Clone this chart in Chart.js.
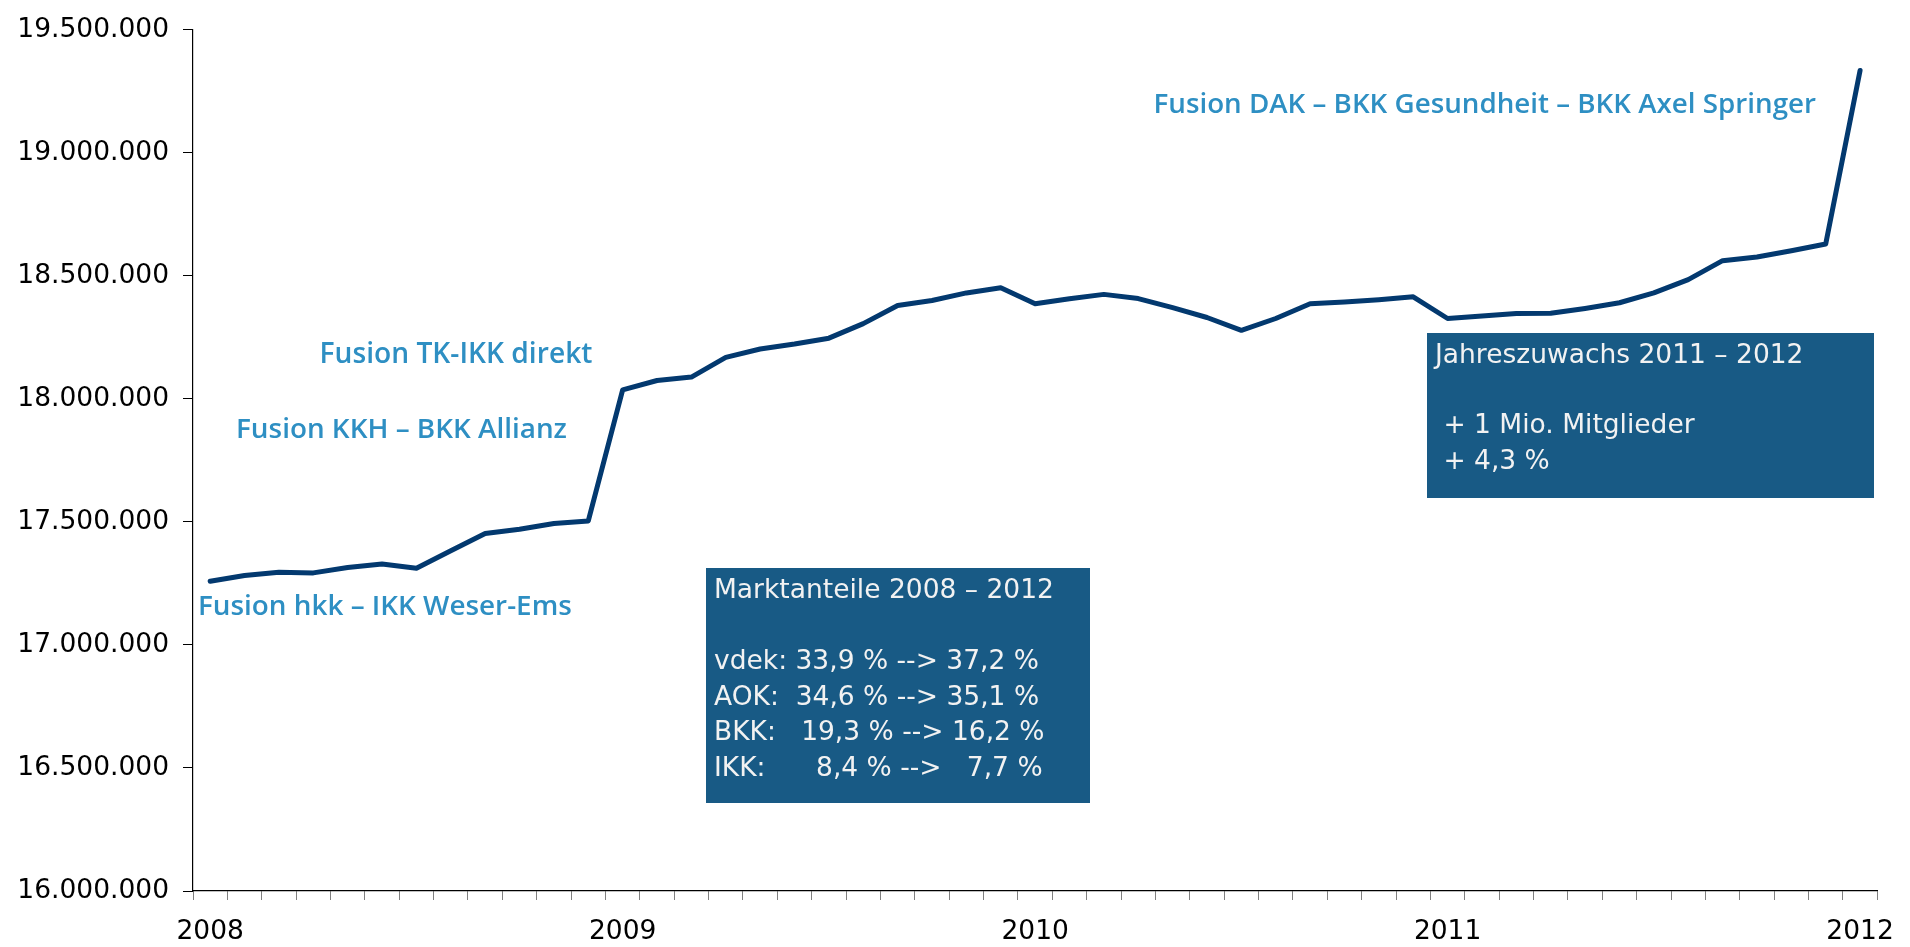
<!DOCTYPE html>
<html lang="de">
<head>
<meta charset="utf-8">
<title>Mitgliederentwicklung 2008 - 2012</title>
<script src="https://cdn.jsdelivr.net/npm/chart.js@4.4.1/dist/chart.umd.min.js"></script>
<style>
  html, body { margin: 0; padding: 0; background: #ffffff; overflow: hidden; }
  #wrap { position: relative; width: 1910px; height: 947px; }
</style>
</head>
<body>
<div id="wrap"><canvas id="chart"></canvas></div>
<script>
// ---- Data -------------------------------------------------------------
const months = [
  '2008-01','2008-02','2008-03','2008-04','2008-05','2008-06','2008-07','2008-08','2008-09','2008-10','2008-11','2008-12',
  '2009-01','2009-02','2009-03','2009-04','2009-05','2009-06','2009-07','2009-08','2009-09','2009-10','2009-11','2009-12',
  '2010-01','2010-02','2010-03','2010-04','2010-05','2010-06','2010-07','2010-08','2010-09','2010-10','2010-11','2010-12',
  '2011-01','2011-02','2011-03','2011-04','2011-05','2011-06','2011-07','2011-08','2011-09','2011-10','2011-11','2011-12',
  '2012-01'
];
const members = [
  17259000, 17282000, 17296000, 17293000, 17315000, 17329000, 17312000, 17383000, 17453000, 17470000, 17494000, 17504000,
  18037000, 18075000, 18089000, 18169000, 18203000, 18223000, 18247000, 18306000, 18380000, 18400000, 18431000, 18452000,
  18387000, 18407000, 18425000, 18408000, 18371000, 18331000, 18279000, 18327000, 18387000, 18394000, 18403000, 18415000,
  18327000, 18337000, 18347000, 18348000, 18368000, 18391000, 18431000, 18485000, 18562000, 18577000, 18602000, 18630000,
  19335000
];
const yearLabels = ['2008', '2009', '2010', '2011', '2012'];
const yMin = 16000000;
const yMax = 19500000;
const yStep = 500000;

const mergerNotes = [
  'Fusion hkk \u2013 IKK Weser-Ems',
  'Fusion KKH \u2013 BKK Allianz',
  'Fusion TK-IKK direkt',
  'Fusion DAK \u2013 BKK Gesundheit \u2013 BKK Axel Springer'
];
const marketShareLines = [
  'Marktanteile 2008 \u2013 2012',
  '',
  'vdek: 33,9 % --> 37,2 %',
  'AOK:  34,6 % --> 35,1 %',
  'BKK:   19,3 % --> 16,2 %',
  'IKK:      8,4 % -->   7,7 %'
];
const growthLines = [
  'Jahreszuwachs 2011 \u2013 2012',
  '',
  ' + 1 Mio. Mitglieder',
  ' + 4,3 %'
];

// ---- Helpers ----------------------------------------------------------
function formatDE(v) {
  return String(Math.round(v)).replace(/\B(?=(\d{3})+(?!\d))/g, '.');
}

const AXIS_FONT = { family: 'DejaVu Sans', size: 26.5 };
const NOTE_COLOR = '#2e8fc3';
const BOX_COLOR = '#185a85';
const BOX_TEXT = '#f2f2f2';

function fitFont(ctx, text, weight, family, size, targetWidth) {
  ctx.font = weight + ' ' + size + 'px "' + family + '"';
  const w = ctx.measureText(text).width;
  const s = w > 0 ? size * targetWidth / w : size;
  return weight + ' ' + s.toFixed(2) + 'px "' + family + '"';
}

const annotationPlugin = {
  id: 'annotations',
  afterDraw(chart) {
    const ctx = chart.ctx;
    ctx.save();
    ctx.textBaseline = 'alphabetic';
    ctx.textAlign = 'left';

    // Merger notes (blue)
    const notes = [
      { text: mergerNotes[0], x: 198, y: 615, w: 374 },
      { text: mergerNotes[1], x: 236, y: 437.7, w: 331 },
      { text: mergerNotes[2], x: 319.5, y: 363.3, w: 273 },
      { text: mergerNotes[3], x: 1153.5, y: 113.3, w: 662.5 }
    ];
    ctx.fillStyle = NOTE_COLOR;
    notes.forEach(n => {
      ctx.font = fitFont(ctx, n.text, 600, 'Open Sans', 27, n.w);
      ctx.fillText(n.text, n.x, n.y);
    });

    // Box: Marktanteile
    ctx.fillStyle = BOX_COLOR;
    ctx.fillRect(706, 568, 384, 235);
    ctx.fillStyle = BOX_TEXT;
    ctx.font = '26.5px "DejaVu Sans"';
    const b1y = [597.7, 633.3, 669, 704.5, 740, 775.5];
    marketShareLines.forEach((t, i) => { if (t) ctx.fillText(t, 714, b1y[i]); });

    // Box: Jahreszuwachs
    ctx.fillStyle = BOX_COLOR;
    ctx.fillRect(1427, 333, 447, 165);
    ctx.fillStyle = BOX_TEXT;
    const b2y = [363.3, 398.3, 433.3, 469.3];
    growthLines.forEach((t, i) => { if (t) ctx.fillText(t, 1435, b2y[i]); });

    ctx.restore();
  }
};

// ---- Chart ------------------------------------------------------------
const ctx = document.getElementById('chart').getContext('2d');
new Chart(ctx, {
  type: 'line',
  data: {
    labels: months,
    datasets: [{
      label: 'Mitglieder',
      data: members,
      borderColor: '#03396f',
      backgroundColor: '#03396f',
      borderWidth: 5,
      pointRadius: 0,
      pointHoverRadius: 0,
      tension: 0,
      fill: false,
      borderJoinStyle: 'round',
      borderCapStyle: 'round'
    }]
  },
  options: {
    responsive: true,
    maintainAspectRatio: false,
    animation: false,
    devicePixelRatio: 1,
    layout: { padding: { top: 23, right: 20, bottom: 0, left: 0 } },
    plugins: {
      legend: { display: false },
      tooltip: { enabled: false },
      title: { display: false }
    },
    scales: {
      x: {
        type: 'category',
        offset: true,
        grid: {
          offset: true,
          drawOnChartArea: false,
          drawTicks: true,
          tickLength: 9,
          color: '#808080',
          tickColor: '#808080',
          lineWidth: 1
        },
        border: { display: true, color: '#000000', width: 1.2 },
        ticks: {
          autoSkip: false,
          maxRotation: 0,
          minRotation: 0,
          padding: 16,
          color: '#000000',
          font: AXIS_FONT,
          callback: function (value, index) {
            const m = months[index];
            if (m && m.endsWith('-01')) {
              const yr = m.slice(0, 4);
              return yearLabels.includes(yr) ? yr : '';
            }
            return '';
          }
        },
        afterFit: function (scale) { scale.height = 56; }
      },
      y: {
        min: yMin,
        max: yMax,
        grid: {
          drawOnChartArea: false,
          drawTicks: true,
          tickLength: 10,
          color: '#000000',
          tickColor: '#000000',
          lineWidth: 1
        },
        border: { display: true, color: '#000000', width: 1.2 },
        ticks: {
          stepSize: yStep,
          padding: 14,
          color: '#000000',
          font: AXIS_FONT,
          callback: function (v) { return formatDE(v); }
        },
        afterFit: function (scale) { scale.width = 193; }
      }
    }
  },
  plugins: [annotationPlugin]
});
</script>
</body>
</html>
